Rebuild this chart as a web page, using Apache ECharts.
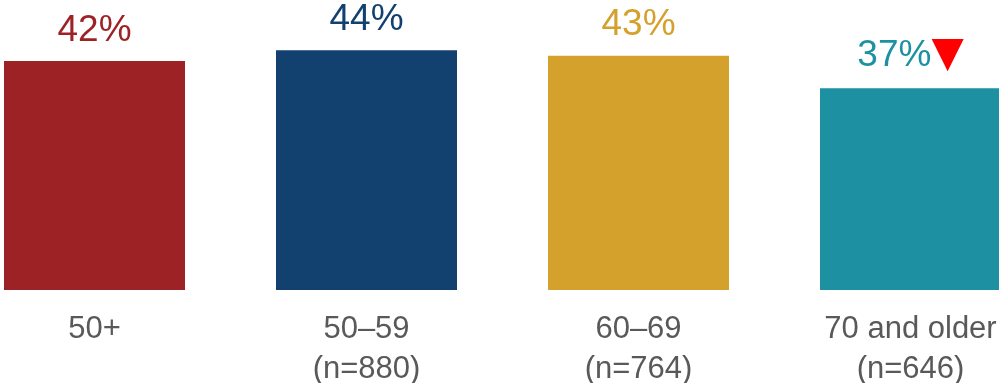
<!DOCTYPE html>
<html><head><meta charset="utf-8">
<script src="https://cdn.jsdelivr.net/npm/echarts@6/dist/echarts.min.js"></script>
<style>html,body{margin:0;padding:0;background:#fff}#c{width:999px;height:383px}</style>
</head><body><div id="c"></div>
<script>
const categories = ['50+', '50–59\n(n=880)', '60–69\n(n=764)', '70 and older\n(n=646)'];
const values = [42, 44, 43, 37];
const colors = ['#9C2226', '#124170', '#D4A12C', '#1D91A2'];
const downFlags = [false, false, false, true];

const chart = echarts.init(document.getElementById('c'));
chart.setOption({
  animation: false,
  grid: { left: -41.5, right: -47.5, top: 17.5, bottom: 93, containLabel: false, outerBoundsMode: 'none' },
  xAxis: {
    type: 'category', data: categories,
    axisLine: { show: false }, axisTick: { show: false },
    axisLabel: { color: '#595959', fontSize: 31, fontFamily: 'Liberation Sans, Arial, sans-serif', lineHeight: 40, margin: 19, interval: 0 }
  },
  yAxis: { type: 'value', min: 0, max: 50, show: false, splitLine: { show: false } },
  series: [{
    type: 'bar', barWidth: 181,
    data: values.map((v, i) => ({
      value: v,
      itemStyle: { color: colors[i] },
      label: {
        show: true, position: 'top', distance: 12,
        formatter: downFlags[i] ? '{v|{c}%}{t|▼}' : '{v|{c}%}',
        rich: {
          v: { color: colors[i], fontSize: 37, fontFamily: 'Liberation Sans, Arial, sans-serif' },
          t: { color: '#FF0000', fontSize: 42, fontFamily: 'DejaVu Sans, sans-serif' }
        }
      }
    }))
  }]
});
</script></body></html>
